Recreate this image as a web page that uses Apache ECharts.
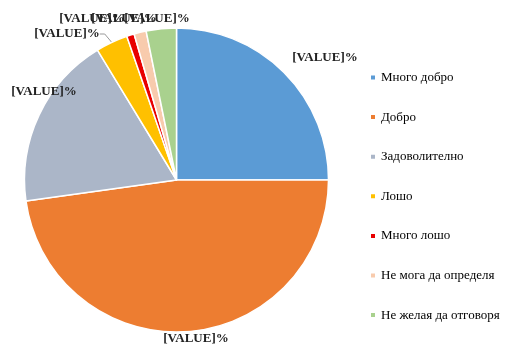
<!DOCTYPE html>
<html><head><meta charset="utf-8">
<script src="https://cdn.jsdelivr.net/npm/echarts@6/dist/echarts.min.js"></script>
<style>html,body{margin:0;padding:0;background:#fff}#c{width:513px;height:355px}</style>
</head><body><div id="c"></div>
<script>
const categories = ['Много добро','Добро','Задоволително','Лошо','Много лошо','Не мога да определя','Не желая да отговоря'];
const values = [25.0, 47.8, 18.5, 3.4, 0.8, 1.3, 3.2];
const colors = ['#5B9BD5','#ED7D31','#ABB6C8','#FFC000','#E80000','#F8CBAD','#A9D18E'];
const labelText = '[VALUE]%';

// label placement (layout only)
const labelPlacement = [[325,58],[196,339],[44,92],[67,34],[92,19],[124,19],[157,19]];

const chart = echarts.init(document.getElementById('c'), null, {renderer:'canvas'});
chart.setOption({
  animation:false,
  color: colors,
  legend:{
    orient:'vertical', left:364, top:66,
    itemWidth:6, itemHeight:6, itemGap:26.6, icon:'rect',
    textStyle:{fontFamily:'Liberation Serif', fontSize:13, color:'#000'},
    data: categories
  },
  series:[{
    type:'pie', center:[176.5,180], radius:152, startAngle:90, clockwise:true,
    avoidLabelOverlap:false,
    itemStyle:{borderColor:'#fff', borderWidth:1.5},
    label:{show:true, position:'outside', formatter:labelText, distance:4, alignTo:'none',
      fontFamily:'Liberation Serif', fontWeight:'bold', fontSize:13, color:'#222'},
    labelLine:{show:false, length:5, length2:5, lineStyle:{color:'#999', width:1}},
    labelLayout:function(p){
      const pos = labelPlacement[p.dataIndex];
      return {x:pos[0], y:pos[1], align:'center', verticalAlign:'middle', hideOverlap:false};
    },
    data: categories.map((n,i)=>({name:n, value:values[i], labelLine:{show:i===3}}))
  }]
});
</script></body></html>
